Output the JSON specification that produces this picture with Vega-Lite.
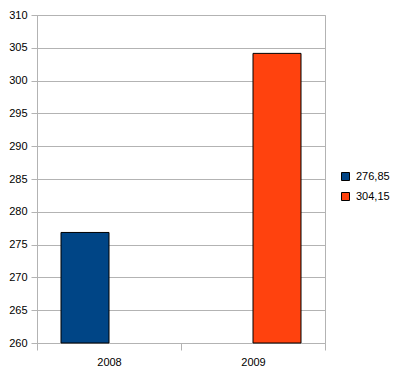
{
  "$schema": "https://vega.github.io/schema/vega-lite/v6.json",
  "width": 288,
  "height": 328,
  "autosize": {"type": "none"},
  "padding": {"left": 37, "top": 15, "right": 91, "bottom": 42},
  "background": "white",
  "config": {
    "font": "Liberation Sans",
    "view": {"stroke": "#b3b3b3", "strokeWidth": 1},
    "axis": {
      "labelFont": "Liberation Sans",
      "labelFontSize": 11,
      "labelColor": "#000000",
      "domainColor": "#b3b3b3",
      "tickColor": "#b3b3b3",
      "gridColor": "#b3b3b3",
      "title": null
    }
  },
  "data": {
    "values": [
      {"year": "2008", "series": "276,85", "value": 276.85},
      {"year": "2009", "series": "304,15", "value": 304.15}
    ]
  },
  "mark": {"type": "bar", "stroke": "#000000", "strokeWidth": 1},
  "encoding": {
    "x": {
      "field": "year",
      "type": "nominal",
      "scale": {"paddingInner": 0, "paddingOuter": 0},
      "axis": {
        "labelAngle": 0,
        "tickBand": "extent",
        "tickSize": 7,
        "labelPadding": 6,
        "grid": false,
        "domain": false
      }
    },
    "xOffset": {
      "field": "series",
      "type": "nominal",
      "scale": {"paddingInner": 0, "paddingOuter": 0.5}
    },
    "y": {
      "field": "value",
      "type": "quantitative",
      "scale": {"domain": [260, 310], "zero": false, "nice": false},
      "axis": {
        "values": [260, 265, 270, 275, 280, 285, 290, 295, 300, 305, 310],
        "tickSize": 6,
        "labelPadding": 4,
        "grid": true,
        "domain": true
      }
    },
    "y2": {"datum": 260},
    "color": {
      "field": "series",
      "type": "nominal",
      "scale": {"domain": ["276,85", "304,15"], "range": ["#004586", "#ff420e"]},
      "legend": {
        "title": null,
        "orient": "none",
        "legendX": 303,
        "legendY": 156,
        "symbolType": "square",
        "symbolSize": 64,
        "symbolStrokeColor": "#000000",
        "symbolStrokeWidth": 1,
        "symbolOpacity": 1,
        "labelFont": "Liberation Sans",
        "labelFontSize": 11,
        "labelColor": "#000000",
        "rowPadding": 7,
        "labelOffset": 5
      }
    }
  }
}
